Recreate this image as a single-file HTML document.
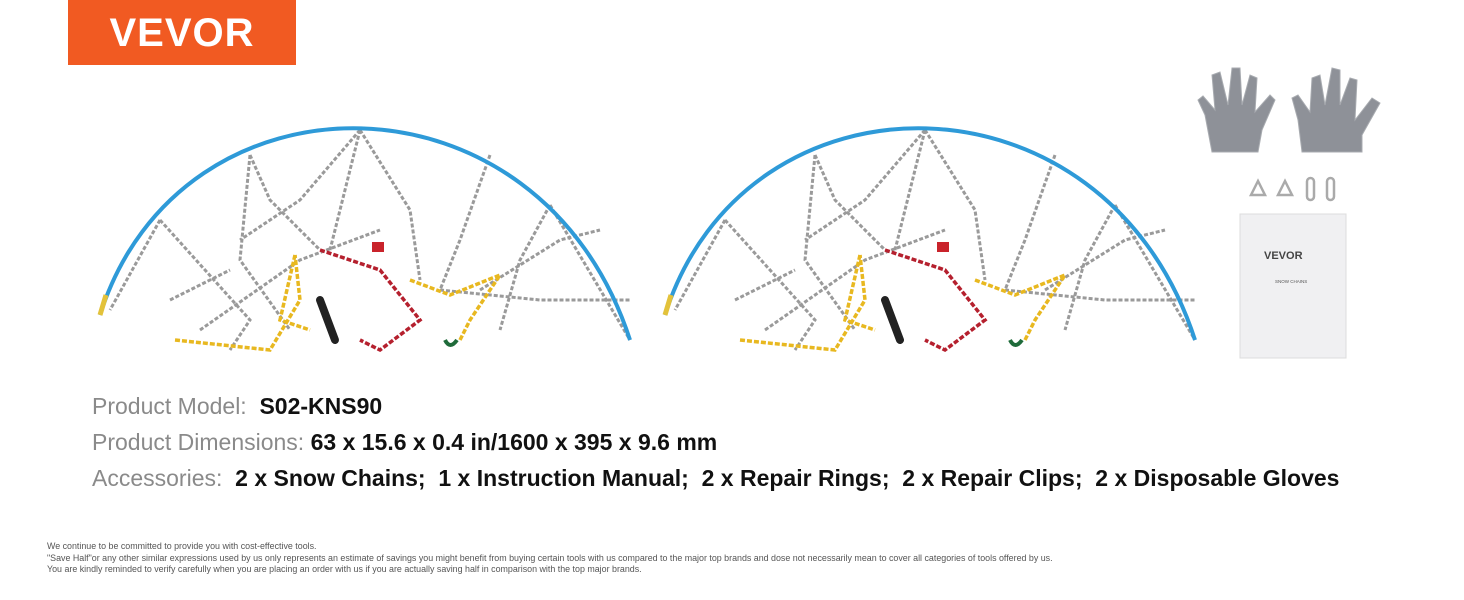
<!DOCTYPE html>
<html><head><style>
body{margin:0;width:1464px;height:600px;background:#fff;position:relative;overflow:hidden;font-family:"Liberation Sans",sans-serif}
.logo{position:absolute;left:68px;top:0;width:228px;height:65px;background:#f15a22;color:#fff;font-weight:bold;font-size:40px;text-align:center;line-height:66px;letter-spacing:1px}
.l{position:absolute;left:92px;font-size:23px;color:#8a8a8a;white-space:nowrap}
.l b{color:#111}
.f{position:absolute;left:47px;font-size:8.9px;color:#555;line-height:11.5px;white-space:nowrap}
</style></head><body>
<div class="logo">VEVOR</div>
<svg width="1464" height="600" style="position:absolute;left:0;top:0">
<defs>
<g id="ch">
<g fill="none" stroke="#9a9a9a" stroke-width="3" stroke-dasharray="4 2">
<path d="M160,220 L250,320 L230,350"/><path d="M250,155 L240,260 L290,330"/><path d="M360,130 L300,200 L240,240"/>
<path d="M360,130 L410,210 L420,280"/><path d="M490,155 L460,240 L440,290"/><path d="M550,205 L520,260 L500,330"/>
<path d="M160,220 L110,310"/><path d="M550,205 L630,340"/><path d="M200,330 L300,260 L380,230"/>
<path d="M440,290 L540,300 L630,300"/><path d="M480,290 L560,240 L600,230"/><path d="M250,155 L270,200 L320,250"/>
<path d="M170,300 L230,270"/><path d="M360,130 L330,250"/>
</g>
<g fill="none" stroke-width="3.5" stroke-dasharray="5 2">
<path d="M175,340 L270,350 L300,300 L295,255" stroke="#e8b820"/>
<path d="M295,255 L280,320 L310,330" stroke="#e8b820"/>
<path d="M410,280 L450,295 L500,275 L470,320 L460,340" stroke="#e8b820"/>
<path d="M320,250 L380,270 L420,320 L380,350 L360,340" stroke="#b5202e"/>
</g>
<path d="M100,315 C180,62 540,62 630,340" fill="none" stroke="#2e9ad8" stroke-width="4"/>
<path d="M100,315 L106,295" stroke="#e3c23a" stroke-width="5"/>
<path d="M320,300 L335,340" stroke="#222" stroke-width="8" stroke-linecap="round"/>
<rect x="372" y="242" width="12" height="10" fill="#c9232b"/>
<path d="M445,340 q5,10 12,0" fill="none" stroke="#1f6b3a" stroke-width="4"/>
</g>
</defs>
<use href="#ch"/>
<use href="#ch" x="565"/>
<g fill="#8e9198" stroke="#a8abb0" stroke-width="1">
<path d="M1212,152 L1205,115 L1198,100 L1203,96 L1215,110 L1212,75 L1220,72 L1228,105 L1232,68 L1240,68 L1242,105 L1250,75 L1257,78 L1255,112 L1270,95 L1275,100 L1262,130 L1258,152 Z"/>
<path d="M1302,152 L1298,120 L1292,98 L1298,95 L1310,112 L1312,78 L1320,75 L1325,105 L1332,68 L1340,70 L1340,105 L1350,78 L1357,80 L1355,120 L1372,98 L1380,103 L1362,135 L1362,152 Z"/>
</g>
<g fill="none" stroke="#aaa" stroke-width="2.5">
<path d="M1251,195 L1258,181 L1265,195 Z"/><path d="M1278,195 L1285,181 L1292,195 Z"/>
<rect x="1307" y="178" width="7" height="22" rx="3.5"/><rect x="1327" y="178" width="7" height="22" rx="3.5"/>
</g>
<rect x="1240" y="214" width="106" height="144" fill="#f0f0f2" stroke="#ddd"/>
<text x="1264" y="259" font-size="11" font-weight="bold" fill="#444" font-family="Liberation Sans">VEVOR</text>
<text x="1275" y="283" font-size="4.5" fill="#555" font-family="Liberation Sans">SNOW CHAINS</text>
</svg>
<div class="l" style="top:393px">Product Model:&nbsp; <b>S02-KNS90</b></div>
<div class="l" style="top:429px">Product Dimensions: <b>63 x 15.6 x 0.4 in/1600 x 395 x 9.6 mm</b></div>
<div class="l" style="top:465px">Accessories:&nbsp; <b>2 x Snow Chains;&nbsp; 1 x Instruction Manual;&nbsp; 2 x Repair Rings;&nbsp; 2 x Repair Clips;&nbsp; 2 x Disposable Gloves</b></div>
<div class="f" style="top:541px">We continue to be committed to provide you with cost-effective tools.<br>"Save Half"or any other similar expressions used by us only represents an estimate of savings you might benefit from buying certain tools with us compared to the major top brands and dose not necessarily mean to cover all categories of tools offered by us.<br>You are kindly reminded to verify carefully when you are placing an order with us if you are actually saving half in comparison with the top major brands.</div>
</body></html>
